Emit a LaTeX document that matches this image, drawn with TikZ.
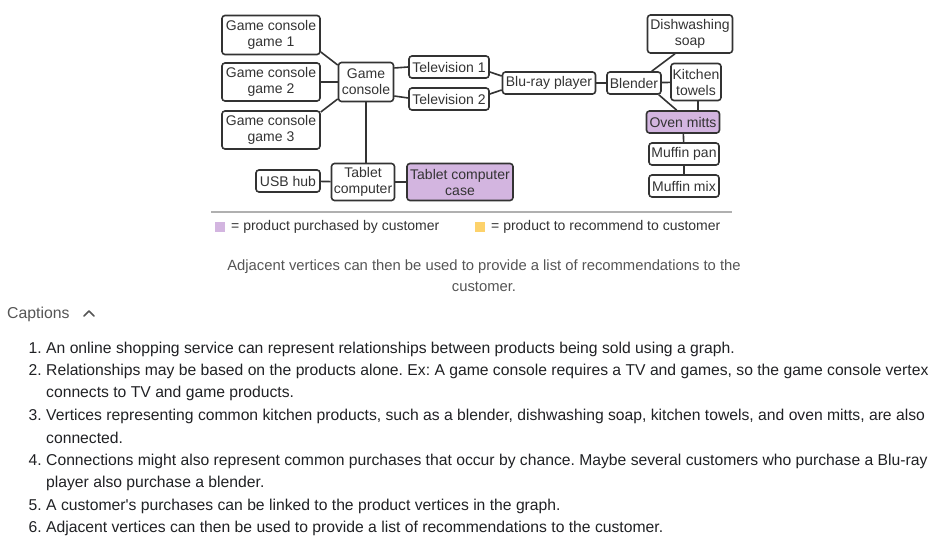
\documentclass[tikz,border=0pt]{standalone}
\usepackage{fontspec}
\setmainfont{Liberation Sans}
\usetikzlibrary{positioning,calc}
\frenchspacing

\definecolor{edgegray}{HTML}{333333}
\definecolor{boughtcol}{HTML}{D3B5E0}
\definecolor{recommendcol}{HTML}{FDD26B}
\definecolor{rulegray}{HTML}{B0B0B0}
\definecolor{captiongray}{HTML}{555555}
\definecolor{listtext}{HTML}{202124}

\tikzset{
  prod/.style={draw=edgegray, text=edgegray, rounded corners=3, line width=1.6,
    inner sep=1, align=center, minimum height=22,
    font=\fontsize{14}{16}\selectfont},
  bought/.style={prod, fill=boughtcol},
  link/.style={draw=edgegray, line width=1.6},
  legendtext/.style={anchor=west, inner sep=0, text=edgegray,
    font=\fontsize{14}{16}\selectfont},
  listnum/.style={anchor=base east, inner sep=0, text=listtext,
    font=\fontsize{15.7}{22}\selectfont},
  listline/.style={anchor=base west, inner sep=0, text=listtext,
    font=\fontsize{15.7}{22}\selectfont}
}

\begin{document}
\begin{tikzpicture}[x=1pt,y=-1pt]
    \useasboundingbox (0,0) rectangle (946,553);

    % Game products
    \node[prod, minimum width=98, minimum height=39] (game1) at (271,35) {Game console\\game 1};
    \node[prod, minimum width=98, minimum height=38] (game2) at (271,82) {Game console\\game 2};
    \node[prod, minimum width=98, minimum height=38] (game3) at (271,130) {Game console\\game 3};
    \node[prod, minimum width=55, minimum height=39] (console) at (366,82) {Game\\console};
    \node[prod, minimum width=80] (tv1) at (449,67) {Television 1};
    \node[prod, minimum width=80] (tv2) at (449,99) {Television 2};
    \node[prod, minimum width=93] (bluray) at (549,83) {Blu-ray player};

    % Tablet products
    \node[prod, minimum width=64] (usb) at (288,181) {USB hub};
    \node[prod, minimum width=63, minimum height=37] (tablet) at (363,182) {Tablet\\computer};
    \node[bought, minimum width=106, minimum height=37] (case) at (460,182) {Tablet computer\\case};

    % Kitchen products
    \node[prod, minimum width=54] (blender) at (634,83) {Blender};
    \node[prod, minimum width=85, minimum height=38] (soap) at (690,34) {Dishwashing\\soap};
    \node[prod, minimum width=50, minimum height=37] (towels) at (696,82) {Kitchen\\towels};
    \node[bought, minimum width=73] (mitts) at (683,122) {Oven mitts};
    \node[prod, minimum width=70] (pan) at (684,154) {Muffin pan};
    \node[prod, minimum width=70] (mix) at (684,186) {Muffin mix};

    % Connections
    \draw[link] (game1.east |- 0,52) -- (console.west |- 0,65);
    \draw[link] (game2) -- (console);
    \draw[link] (game3.east |- 0,112) -- (console.west |- 0,99);
    \draw[link] (console.east |- 0,68) -- (tv1.west);
    \draw[link] (console.east |- 0,96) -- (tv2.west |- 0,98);
    \draw[link] (tv1.east |- 0,72) -- (bluray.west |- 0,76);
    \draw[link] (tv2.east |- 0,94) -- (bluray.west |- 0,90);
    \draw[link] (bluray) -- (blender);
    \draw[link] (console.south) -- (console.south |- tablet.north);
    \draw[link] (usb) -- (tablet);
    \draw[link] (tablet) -- (case);
    \draw[link] ($(blender.north east)+(-10,0)$) -- ($(soap.south)+(-15,0)$);
    \draw[link] (blender) -- (towels);
    \draw[link] ($(blender.south east)+(-3,0)$) -- ($(mitts.north west)+(31,0)$);
    \draw[link] ($(towels.south)+(2,0)$) coordinate (tw) -- (tw |- mitts.north);
    \draw[link] (mitts) -- (pan);
    \draw[link] (pan) -- (mix);

    % Legend
    \draw[rulegray, line width=2] (211,212) -- (732,212);
    \fill[boughtcol] (215,222) rectangle (225,232);
    \node[legendtext] (leg1) at (231,227) {= product purchased by customer};
    \fill[recommendcol] (475,222) rectangle (485,232);
    \node[legendtext] (leg2) at (491,227) {= product to recommend to customer};

    % Caption
    \node[align=center, inner sep=0, text=captiongray, font=\fontsize{14.8}{21}\selectfont] (cap) at (484,276)
      {Adjacent vertices can then be used to provide a list of recommendations to the\\customer.};

    \node[anchor=west, inner sep=0, text=captiongray, font=\fontsize{15.8}{18}\selectfont] (captions) at (7,314) {Captions};
    \draw[captiongray, line width=1.6, line cap=round, line join=round] (84,316) -- (89,311) -- (94,316);

    % Numbered list
    \node[listnum] (n1) at (42,354) {1.};
    \node[listline] (t1) at (46,354) {An online shopping service can represent relationships between products being sold using a graph.};
    \node[listnum] (n2) at (42,376) {2.};
    \node[listline] (t2) at (46,376) {Relationships may be based on the products alone. Ex: A game console requires a TV and games, so the game console vertex};
    \node[listline] (t2b) at (46,398) {connects to TV and game products.};
    \node[listnum] (n3) at (42,421) {3.};
    \node[listline] (t3) at (46,421) {Vertices representing common kitchen products, such as a blender, dishwashing soap, kitchen towels, and oven mitts, are also};
    \node[listline] (t3b) at (46,443) {connected.};
    \node[listnum] (n4) at (42,466) {4.};
    \node[listline] (t4) at (46,466) {Connections might also represent common purchases that occur by chance. Maybe several customers who purchase a Blu-ray};
    \node[listline] (t4b) at (46,488) {player also purchase a blender.};
    \node[listnum] (n5) at (42,510) {5.};
    \node[listline] (t5) at (46,510) {A customer\textquotesingle s purchases can be linked to the product vertices in the graph.};
    \node[listnum] (n6) at (42,532) {6.};
    \node[listline] (t6) at (46,532) {Adjacent vertices can then be used to provide a list of recommendations to the customer.};
\end{tikzpicture}
\end{document}
